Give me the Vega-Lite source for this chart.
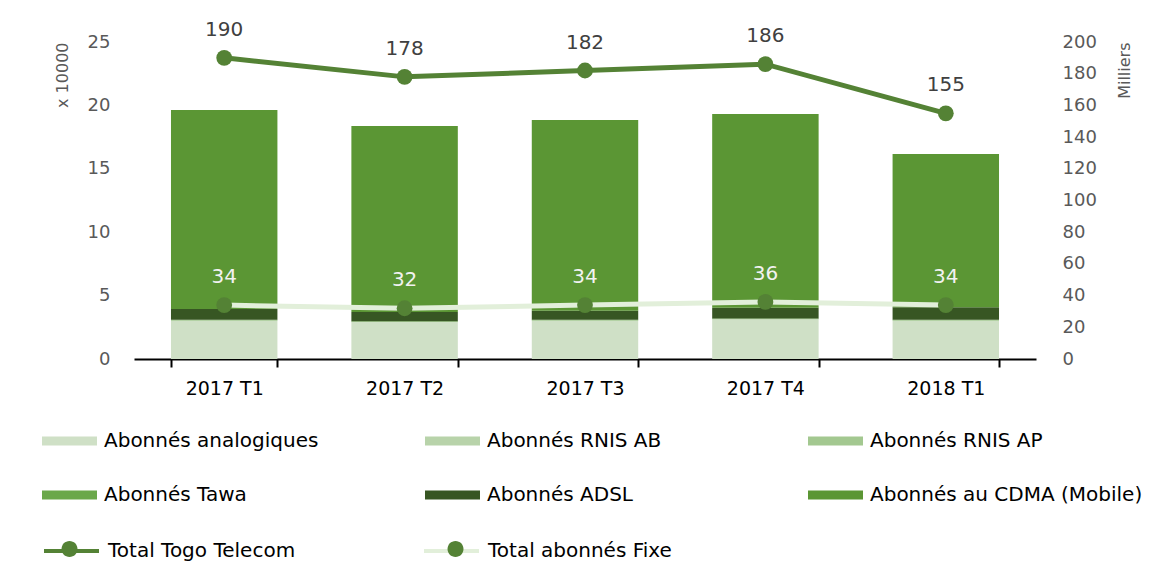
{
  "$schema": "https://vega.github.io/schema/vega-lite/v6.json",
  "autosize": {"type": "none"},
  "width": 902,
  "height": 317,
  "padding": {"left": 134, "top": 42, "right": 122, "bottom": 222},
  "background": "white",
  "config": {
    "font": "DejaVu Sans",
    "view": {"stroke": null},
    "axis": {"labelFont": "DejaVu Sans", "titleFont": "DejaVu Sans", "grid": false},
    "legend": {"labelFont": "DejaVu Sans"}
  },
  "datasets": {
    "bars": [
      {"t": "2017 T1", "serie": "Abonnés analogiques", "v": 3.0},
      {"t": "2017 T1", "serie": "Abonnés RNIS AB", "v": 0.03},
      {"t": "2017 T1", "serie": "Abonnés RNIS AP", "v": 0.02},
      {"t": "2017 T1", "serie": "Abonnés Tawa", "v": 0.05},
      {"t": "2017 T1", "serie": "Abonnés ADSL", "v": 0.84},
      {"t": "2017 T1", "serie": "Abonnés au CDMA (Mobile)", "v": 15.7},
      {"t": "2017 T2", "serie": "Abonnés analogiques", "v": 2.88},
      {"t": "2017 T2", "serie": "Abonnés RNIS AB", "v": 0.03},
      {"t": "2017 T2", "serie": "Abonnés RNIS AP", "v": 0.02},
      {"t": "2017 T2", "serie": "Abonnés Tawa", "v": 0.05},
      {"t": "2017 T2", "serie": "Abonnés ADSL", "v": 0.72},
      {"t": "2017 T2", "serie": "Abonnés au CDMA (Mobile)", "v": 14.68},
      {"t": "2017 T3", "serie": "Abonnés analogiques", "v": 3.0},
      {"t": "2017 T3", "serie": "Abonnés RNIS AB", "v": 0.03},
      {"t": "2017 T3", "serie": "Abonnés RNIS AP", "v": 0.02},
      {"t": "2017 T3", "serie": "Abonnés Tawa", "v": 0.05},
      {"t": "2017 T3", "serie": "Abonnés ADSL", "v": 0.71},
      {"t": "2017 T3", "serie": "Abonnés au CDMA (Mobile)", "v": 15.04},
      {"t": "2017 T4", "serie": "Abonnés analogiques", "v": 3.1},
      {"t": "2017 T4", "serie": "Abonnés RNIS AB", "v": 0.03},
      {"t": "2017 T4", "serie": "Abonnés RNIS AP", "v": 0.02},
      {"t": "2017 T4", "serie": "Abonnés Tawa", "v": 0.05},
      {"t": "2017 T4", "serie": "Abonnés ADSL", "v": 0.85},
      {"t": "2017 T4", "serie": "Abonnés au CDMA (Mobile)", "v": 15.27},
      {"t": "2018 T1", "serie": "Abonnés analogiques", "v": 3.0},
      {"t": "2018 T1", "serie": "Abonnés RNIS AB", "v": 0.03},
      {"t": "2018 T1", "serie": "Abonnés RNIS AP", "v": 0.02},
      {"t": "2018 T1", "serie": "Abonnés Tawa", "v": 0.05},
      {"t": "2018 T1", "serie": "Abonnés ADSL", "v": 0.98},
      {"t": "2018 T1", "serie": "Abonnés au CDMA (Mobile)", "v": 12.09}
    ],
    "lines": [
      {"t": "2017 T1", "serie": "Total Togo Telecom", "v": 190},
      {"t": "2017 T2", "serie": "Total Togo Telecom", "v": 178},
      {"t": "2017 T3", "serie": "Total Togo Telecom", "v": 182},
      {"t": "2017 T4", "serie": "Total Togo Telecom", "v": 186},
      {"t": "2018 T1", "serie": "Total Togo Telecom", "v": 155},
      {"t": "2017 T1", "serie": "Total abonnés Fixe", "v": 34},
      {"t": "2017 T2", "serie": "Total abonnés Fixe", "v": 32},
      {"t": "2017 T3", "serie": "Total abonnés Fixe", "v": 34},
      {"t": "2017 T4", "serie": "Total abonnés Fixe", "v": 36},
      {"t": "2018 T1", "serie": "Total abonnés Fixe", "v": 34}
    ]
  },
  "encoding": {
    "x": {
      "field": "t", "type": "nominal", "title": null, "sort": null,
      "scale": {"paddingInner": 0.41, "paddingOuter": 0.205},
      "axis": {
        "labelAngle": 0, "labelFontSize": 19, "labelColor": "#000000",
        "domainColor": "#000000", "domainWidth": 2, "tickColor": "#000000",
        "tickWidth": 2, "tickSize": 8, "tickBand": "extent", "labelPadding": 12
      }
    }
  },
  "layer": [
    {
      "data": {"name": "bars"},
      "transform": [
        {"calculate": "indexof(['Abonnés analogiques','Abonnés RNIS AB','Abonnés RNIS AP','Abonnés Tawa','Abonnés ADSL','Abonnés au CDMA (Mobile)'], datum.serie)", "as": "k"}
      ],
      "mark": {"type": "bar"},
      "encoding": {
        "y": {
          "field": "v", "type": "quantitative", "stack": "zero",
          "scale": {"domain": [0, 25], "nice": false},
          "axis": {
            "title": "x 10000", "titleAnchor": "end", "titleFontSize": 16,
            "titleFontWeight": "normal", "titleColor": "#595959", "titlePadding": 17,
            "values": [0, 5, 10, 15, 20, 25], "labelFontSize": 18, "labelColor": "#595959",
            "domain": false, "ticks": false, "labelPadding": 24
          }
        },
        "order": {"field": "k", "type": "quantitative"},
        "color": {
          "field": "serie", "type": "nominal",
          "scale": {
            "domain": ["Abonnés analogiques", "Abonnés RNIS AB", "Abonnés RNIS AP", "Abonnés Tawa", "Abonnés ADSL", "Abonnés au CDMA (Mobile)"],
            "range": ["#cfe0c6", "#b8d3aa", "#a3c890", "#6aa84a", "#375623", "#5b9634"]
          },
          "legend": {
            "title": null, "orient": "none", "legendX": -92, "legendY": 389,
            "direction": "horizontal",
            "columns": 3, "gridAlign": "all", "columnPadding": 48, "rowPadding": 34,
            "symbolType": "M-1,-0.45H4.5V0.45H-1Z", "symbolSize": 400,
            "symbolStrokeWidth": 0, "labelOffset": 42,
            "labelFontSize": 20, "labelColor": "#000000", "labelLimit": 400
          }
        }
      }
    },
    {
      "data": {"name": "lines"},
      "transform": [{"calculate": "datum.serie", "as": "serie2"}],
      "encoding": {
        "y": {
          "field": "v", "type": "quantitative",
          "scale": {"domain": [0, 200], "nice": false},
          "axis": {
            "orient": "right", "title": "Milliers", "titleAnchor": "end", "titleAngle": -90,
            "titleFontSize": 16, "titleFontWeight": "normal", "titleColor": "#595959",
            "titlePadding": 36, "values": [0, 20, 40, 60, 80, 100, 120, 140, 160, 180, 200],
            "labelFontSize": 18, "labelColor": "#595959", "domain": false, "ticks": false,
            "labelPadding": 26
          }
        }
      },
      "layer": [
        {
          "mark": {"type": "line", "strokeWidth": 5},
          "encoding": {
            "stroke": {
              "field": "serie", "type": "nominal",
              "scale": {"domain": ["Total Togo Telecom", "Total abonnés Fixe"], "range": ["#548235", "#e2efda"]},
              "legend": {
                "title": null, "orient": "none", "legendX": -92, "legendY": 497,
                "direction": "horizontal",
                "columns": 2, "gridAlign": "all", "columnPadding": 120,
                "symbolType": "M-1,0H4.5", "symbolSize": 400, "symbolStrokeWidth": 4,
                "labelOffset": 42, "labelFontSize": 20, "labelColor": "#000000", "labelLimit": 400
              }
            }
          }
        },
        {
          "mark": {"type": "point", "filled": true, "size": 250, "opacity": 1, "strokeWidth": 0},
          "encoding": {
            "fill": {
              "field": "serie2", "type": "nominal",
              "scale": {"range": ["#548235", "#548235"]},
              "legend": {
                "title": null, "orient": "none", "legendX": -92, "legendY": 497,
                "direction": "horizontal",
                "columns": 2, "gridAlign": "all", "columnPadding": 324,
                "symbolType": "M0.95,0A0.8,0.8 0 1,1 2.55,0A0.8,0.8 0 1,1 0.95,0Z",
                "symbolSize": 400, "symbolStrokeWidth": 0, "symbolOpacity": 1,
                "labelOffset": 42, "labelFontSize": 20, "labelExpr": "''", "labelLimit": 400
              }
            }
          }
        },
        {
          "mark": {"type": "text", "dy": -28, "fontSize": 20},
          "encoding": {
            "text": {"field": "v", "type": "quantitative"},
            "color": {
              "condition": {"test": "datum.serie === 'Total Togo Telecom'", "value": "#404040"},
              "value": "#f2f2f2"
            }
          }
        }
      ]
    }
  ],
  "resolve": {"scale": {"y": "independent", "color": "independent"}}
}
